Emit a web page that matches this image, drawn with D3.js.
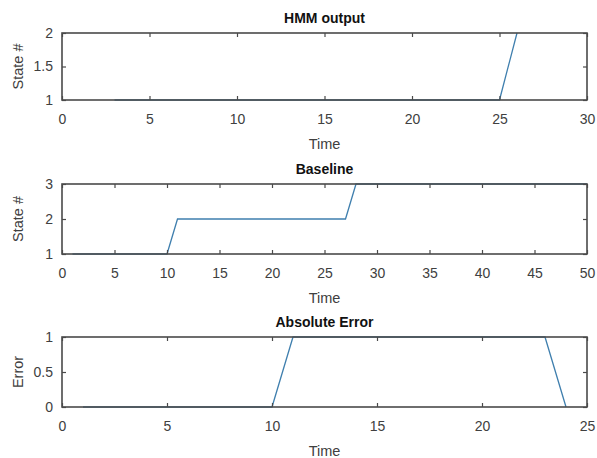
<!DOCTYPE html>
<html>
<head>
<meta charset="utf-8">
<script src="https://cdn.jsdelivr.net/npm/d3@7"></script>
<style>
  body { margin: 0; background: #fff; }
  svg { display: block; font-family: "Liberation Sans", Arial, sans-serif; }
</style>
</head>
<body>
<svg id="chart" width="597" height="458"></svg>
<script>
// HMM output
const hmmTime  = [3, 4, 5, 6, 7, 8, 9, 10, 11, 12, 13, 14, 15, 16, 17, 18, 19, 20, 21, 22, 23, 24, 25, 26];
const hmmState = [1, 1, 1, 1, 1, 1, 1, 1, 1, 1, 1, 1, 1, 1, 1, 1, 1, 1, 1, 1, 1, 1, 1, 2];
const hmmXTicks = [0, 5, 10, 15, 20, 25, 30];
const hmmYTicks = [1, 1.5, 2];

// Baseline
const baseTime  = [1, 2, 3, 4, 5, 6, 7, 8, 9, 10, 11, 12, 13, 14, 15, 16, 17, 18, 19, 20, 21, 22, 23, 24, 25,
                   26, 27, 28, 29, 30, 31, 32, 33, 34, 35, 36, 37, 38, 39, 40, 41, 42, 43, 44, 45, 46, 47, 48, 49, 50];
const baseState = [1, 1, 1, 1, 1, 1, 1, 1, 1, 1, 2, 2, 2, 2, 2, 2, 2, 2, 2, 2, 2, 2, 2, 2, 2,
                   2, 2, 3, 3, 3, 3, 3, 3, 3, 3, 3, 3, 3, 3, 3, 3, 3, 3, 3, 3, 3, 3, 3, 3, 3];
const baseXTicks = [0, 5, 10, 15, 20, 25, 30, 35, 40, 45, 50];
const baseYTicks = [1, 2, 3];

// Absolute error
const errTime  = [1, 2, 3, 4, 5, 6, 7, 8, 9, 10, 11, 12, 13, 14, 15, 16, 17, 18, 19, 20, 21, 22, 23, 24];
const errValue = [0, 0, 0, 0, 0, 0, 0, 0, 0, 0, 1, 1, 1, 1, 1, 1, 1, 1, 1, 1, 1, 1, 1, 0];
const errXTicks = [0, 5, 10, 15, 20, 25];
const errYTicks = [0, 0.5, 1];

const panels = [
  { title: "HMM output", ylabel: "State #", xs: hmmTime, ys: hmmState, xt: hmmXTicks, yt: hmmYTicks, top: 33, bottom: 100 },
  { title: "Baseline", ylabel: "State #", xs: baseTime, ys: baseState, xt: baseXTicks, yt: baseYTicks, top: 184, bottom: 254 },
  { title: "Absolute Error", ylabel: "Error", xs: errTime, ys: errValue, xt: errXTicks, yt: errYTicks, top: 337, bottom: 407 },
];

const svg = d3.select("#chart");
const left = 62, right = 587;
const axisColor = "#4a4a4a";
const textColor = "#404040";

panels.forEach(p => {
  const x = d3.scaleLinear().domain(d3.extent(p.xt)).range([left, right]);
  const y = d3.scaleLinear().domain(d3.extent(p.yt)).range([p.bottom, p.top]);
  const g = svg.append("g");

  const data = p.xs.map((t, i) => ({ t, v: p.ys[i] }));
  g.append("path")
    .datum(data)
    .attr("fill", "none")
    .attr("stroke", "#3f7fae")
    .attr("stroke-width", 1.3)
    .attr("d", d3.line().x(d => x(d.t)).y(d => y(d.v)));

  const style = sel => {
    sel.select(".domain").remove();
    sel.selectAll(".tick line").attr("stroke", axisColor).attr("stroke-width", 1.2);
    sel.selectAll(".tick text")
      .attr("fill", textColor)
      .attr("font-size", 14);
  };

  g.append("g")
    .attr("transform", `translate(0,${p.bottom})`)
    .call(d3.axisBottom(x).tickValues(p.xt).tickFormat(d3.format("")).tickSize(-4).tickPadding(14))
    .call(style);
  g.append("g")
    .attr("transform", `translate(0,${p.top})`)
    .call(d3.axisTop(x).tickValues(p.xt).tickFormat("").tickSize(-4))
    .call(style);
  g.append("g")
    .attr("transform", `translate(${left},0)`)
    .call(d3.axisLeft(y).tickValues(p.yt).tickFormat(d3.format("")).tickSize(-4).tickPadding(9))
    .call(style);
  g.append("g")
    .attr("transform", `translate(${right},0)`)
    .call(d3.axisRight(y).tickValues(p.yt).tickFormat("").tickSize(-4))
    .call(style);

  // box
  g.append("rect")
    .attr("x", left)
    .attr("y", p.top)
    .attr("width", right - left)
    .attr("height", p.bottom - p.top)
    .attr("fill", "none")
    .attr("stroke", axisColor)
    .attr("stroke-width", 1.6);

  const cx = (left + right) / 2;
  g.append("text")
    .attr("x", cx)
    .attr("y", p.top - 10)
    .attr("text-anchor", "middle")
    .attr("font-size", 14)
    .attr("font-weight", "bold")
    .attr("fill", "#111")
    .text(p.title);

  g.append("text")
    .attr("x", cx)
    .attr("y", p.bottom + 49)
    .attr("text-anchor", "middle")
    .attr("font-size", 14.5)
    .attr("fill", textColor)
    .text("Time");

  g.append("text")
    .attr("transform", `translate(23,${(p.top + p.bottom) / 2}) rotate(-90)`)
    .attr("text-anchor", "middle")
    .attr("font-size", 14.5)
    .attr("fill", textColor)
    .text(p.ylabel);
});
</script>
</body>
</html>
